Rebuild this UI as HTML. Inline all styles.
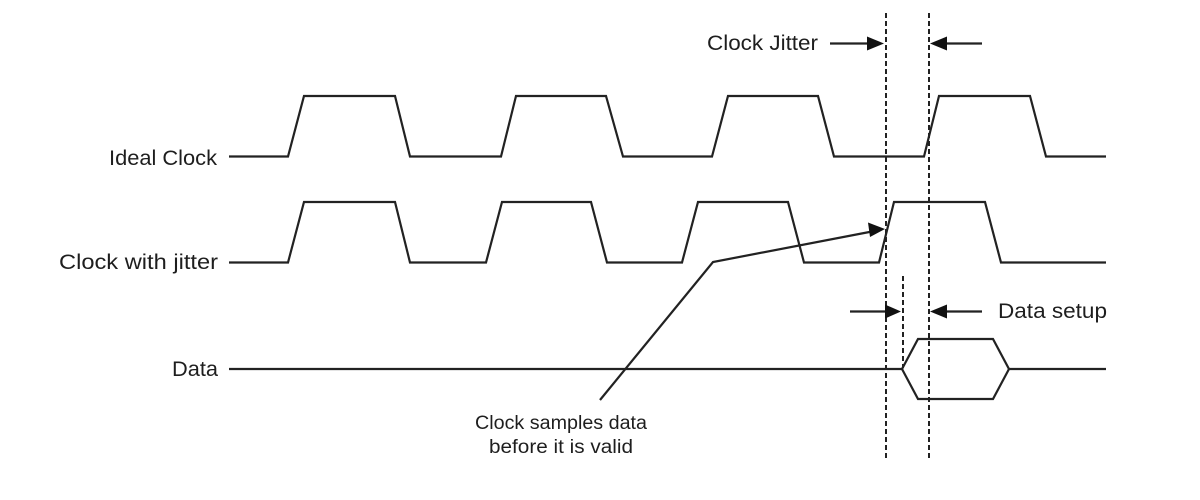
<!DOCTYPE html>
<html>
<head>
<meta charset="utf-8">
<style>
  html,body{margin:0;padding:0;background:#fff;}
  body{width:1200px;height:500px;overflow:hidden;}
  svg{display:block;}
  text{font-family:"Liberation Sans",sans-serif;fill:#1e1e1e;}
</style>
</head>
<body>
<svg width="1200" height="500" viewBox="0 0 1200 500" xmlns="http://www.w3.org/2000/svg">
  <rect width="1200" height="500" fill="#ffffff"/>
  <g fill="none" stroke="#222" stroke-width="2.2" stroke-linejoin="miter">
    <!-- Ideal clock -->
    <polyline points="229,156.5 288,156.5 304,96 395,96 410,156.5 501,156.5 516,96 606,96 623,156.5 712,156.5 728,96 818,96 834,156.5 924,156.5 939,96 1030,96 1046,156.5 1106,156.5"/>
    <!-- Clock with jitter -->
    <polyline points="229,262.5 288,262.5 304,202 395,202 410,262.5 486,262.5 502,202 591,202 607,262.5 682,262.5 698,202 788,202 804,262.5 879,262.5 894,202 985,202 1001,262.5 1106,262.5"/>
    <!-- Data -->
    <polyline points="229,369 902,369 918,339 993,339 1009,369 1106,369"/>
    <polyline points="902,369 918,399 993,399 1009,369"/>
    <!-- annotation line -->
    <polyline points="600,400 713,262 872,231.5"/>
    <!-- Clock jitter arrows -->
    <line x1="830" y1="43.5" x2="870" y2="43.5"/>
    <line x1="943" y1="43.5" x2="982" y2="43.5"/>
    <!-- Data setup arrows -->
    <line x1="850" y1="311.5" x2="890" y2="311.5"/>
    <line x1="943" y1="311.5" x2="982" y2="311.5"/>
  </g>
  <!-- dashed lines -->
  <g stroke="#222" stroke-width="2" stroke-dasharray="5,3">
    <line x1="886" y1="13" x2="886" y2="459"/>
    <line x1="929" y1="13" x2="929" y2="459"/>
    <line x1="903" y1="276" x2="903" y2="368"/>
  </g>
  <!-- arrowheads -->
  <g fill="#111">
    <polygon points="884,43.5 867,36.5 867,50.5"/>
    <polygon points="930,43.5 947,36.5 947,50.5"/>
    <polygon points="901,311.5 885,304.5 885,318.5"/>
    <polygon points="930,311.5 947,304.5 947,318.5"/>
    <polygon points="885,229 868,222.5 870,237"/>
  </g>
  <!-- labels -->
  <text x="109" y="165" font-size="21" textLength="108" lengthAdjust="spacingAndGlyphs">Ideal Clock</text>
  <text x="59" y="269" font-size="21" textLength="159" lengthAdjust="spacingAndGlyphs">Clock with jitter</text>
  <text x="172" y="376" font-size="21" textLength="46" lengthAdjust="spacingAndGlyphs">Data</text>
  <text x="707" y="50" font-size="21" textLength="111" lengthAdjust="spacingAndGlyphs">Clock Jitter</text>
  <text x="998" y="318" font-size="21" textLength="109" lengthAdjust="spacingAndGlyphs">Data setup</text>
  <text x="475" y="429" font-size="19" textLength="172" lengthAdjust="spacingAndGlyphs">Clock samples data</text>
  <text x="489" y="453" font-size="19" textLength="144" lengthAdjust="spacingAndGlyphs">before it is valid</text>
</svg>
</body>
</html>
